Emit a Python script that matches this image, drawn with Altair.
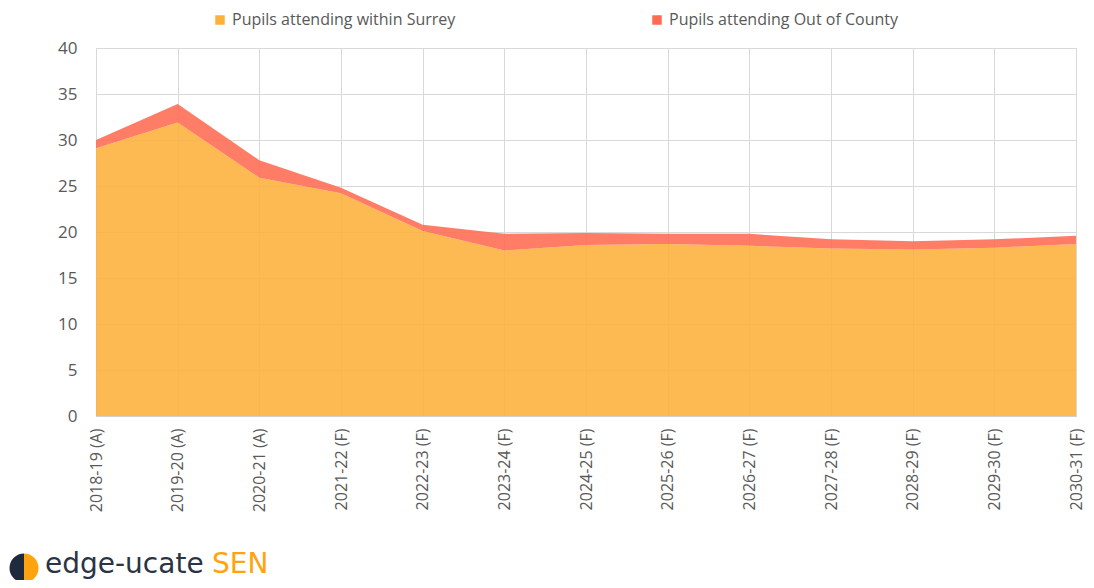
import altair as alt
import pandas as pd

years = ["2018-19 (A)", "2019-20 (A)", "2020-21 (A)", "2021-22 (F)", "2022-23 (F)",
         "2023-24 (F)", "2024-25 (F)", "2025-26 (F)", "2026-27 (F)", "2027-28 (F)",
         "2028-29 (F)", "2029-30 (F)", "2030-31 (F)"]
within_surrey = [29.1, 31.9, 25.9, 24.2, 20.1, 18.0, 18.6, 18.7, 18.5, 18.2, 18.1, 18.3, 18.7]
out_of_county = [0.9, 2.0, 1.9, 0.6, 0.7, 1.8, 1.3, 1.1, 1.3, 1.0, 0.9, 0.9, 0.9]
series_names = ["Pupils attending within Surrey", "Pupils attending Out of County"]
series_colors = ["#FDB13A", "#FF6A52"]

rows = []
for i, y in enumerate(years):
    rows.append({"year": y, "series": series_names[0], "value": within_surrey[i], "ord": 0})
    rows.append({"year": y, "series": series_names[1], "value": out_of_county[i], "ord": 1})
df = pd.DataFrame(rows)

FONT = "Open Sans"
GREY = "#595959"

area = alt.Chart(df).mark_area(opacity=0.88, interpolate="linear").encode(
    x=alt.X("year:N", sort=years,
            scale=alt.Scale(type="point", padding=0),
            axis=alt.Axis(title=None, labelAngle=-90, grid=True, gridColor="#D9D9D9",
                          domain=True, domainColor="#D0D0D0", ticks=False,
                          labelPadding=12, labelFontSize=16, labelColor=GREY,
                          labelFont=FONT, labelLimit=200)),
    y=alt.Y("value:Q", stack="zero",
            scale=alt.Scale(domain=[0, 40], nice=False),
            axis=alt.Axis(title=None, values=list(range(0, 45, 5)), grid=True,
                          gridColor="#D9D9D9", domain=False, ticks=False,
                          labelPadding=19, labelFontSize=17, labelColor=GREY,
                          labelFont=FONT)),
    color=alt.Color("series:N", sort=series_names,
                    scale=alt.Scale(domain=series_names, range=series_colors),
                    legend=alt.Legend(title=None, orient="none", direction="horizontal",
                                      legendX=116, legendY=-36, symbolType="square",
                                      symbolSize=90, symbolOpacity=1, symbolStrokeWidth=0,
                                      labelFontSize=16, labelColor=GREY, labelFont=FONT,
                                      labelLimit=400, columnPadding=193, labelOffset=4,
                                      padding=0)),
    order=alt.Order("ord:Q", sort="ascending"),
)

one = pd.DataFrame({"k": [0]})

logo_left = alt.Chart(one).mark_arc(radius=14.5, theta=3.14159265, theta2=6.28318531,
                                    color="#1F2A3C").encode(
    x=alt.value(-72), y=alt.value(520))
logo_right = alt.Chart(one).mark_arc(radius=14.5, theta=0, theta2=3.14159265,
                                     color="#FFA30F").encode(
    x=alt.value(-72), y=alt.value(520))
logo_text = alt.Chart(one).mark_text(align="left", baseline="alphabetic", fontSize=28,
                                     font="DejaVu Sans", color="#2B3445").encode(
    x=alt.value(-51), y=alt.value(525), text=alt.value("edge-ucate"))
logo_sen = alt.Chart(one).mark_text(align="left", baseline="alphabetic", fontSize=28,
                                    font="DejaVu Sans", color="#FFA30F").encode(
    x=alt.value(116), y=alt.value(525), text=alt.value("SEN"))

chart = alt.layer(area, logo_left, logo_right, logo_text, logo_sen).properties(
    width=980, height=368,
    autosize=alt.AutoSizeParams(type="none"),
    padding={"left": 88, "top": 40, "right": 10, "bottom": 164},
).configure_view(stroke=None).configure(background="white")

chart.save("out.html", embed_options={"renderer": "svg", "actions": False})
